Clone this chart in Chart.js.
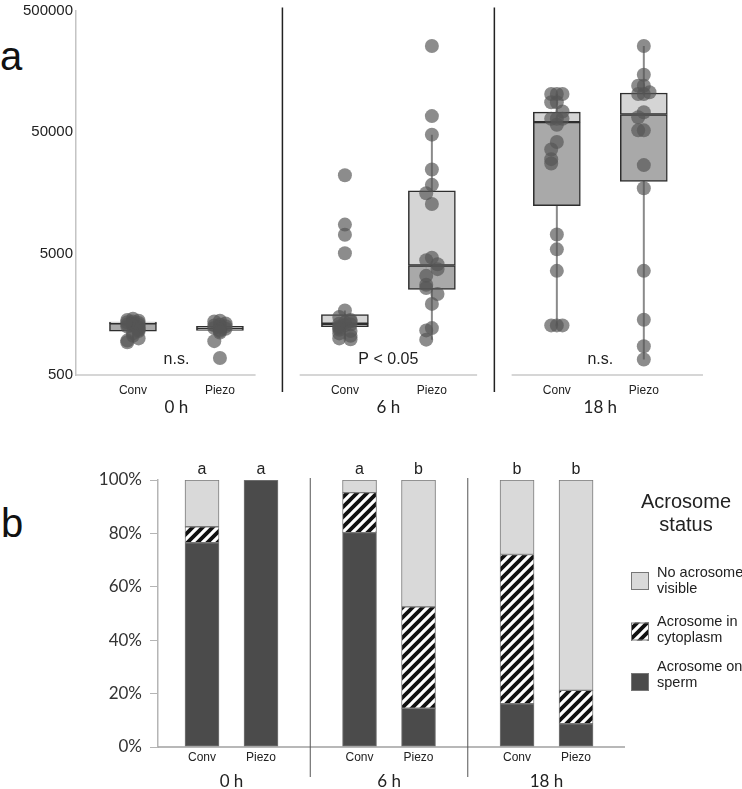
<!DOCTYPE html>
<html>
<head>
<meta charset="utf-8">
<script src="https://cdn.jsdelivr.net/npm/chart.js@4.4.1/dist/chart.umd.min.js"></script>
<style>
  body { margin: 0; background: #fff; width: 742px; height: 789px; position: relative; overflow: hidden; font-family: 'Liberation Sans', Arial, sans-serif; }
  #chartA { position: absolute; left: 0; top: 0; }
  #chartB { position: absolute; left: 0; top: 440px; }
  .panel { position: absolute; font-size: 40px; line-height: 40px; color: #111; }
</style>
</head>
<body>
<div class="panel" style="left:0px;top:36px">a</div>
<div class="panel" style="left:1px;top:503px">b</div>
<canvas id="chartA" width="742" height="420"></canvas>
<canvas id="chartB" width="742" height="349"></canvas>
<script>
const groupLabels = ['0 h', '6 h', '18 h'];
const methodLabels = ['Conv', 'Piezo'];

// panel a: single values per box (log scale)
const conv0h = [1450, 1420, 1400, 1380, 1360, 1340, 1320, 1300, 1290, 1270, 1250, 1230, 1200, 1180, 1150, 1100, 1050, 1000, 960, 930];
const piezo0h = [1400, 1380, 1330, 1300, 1280, 1260, 1240, 1220, 1200, 1180, 1150, 1120, 950, 690];
const conv6h = [22000, 8650, 7125, 5025, 1700, 1500, 1420, 1380, 1350, 1320, 1300, 1280, 1250, 1220, 1180, 1150, 1100, 1050, 1000, 985];
const piezo6h = [255000, 67600, 47540, 24600, 18370, 15670, 12760, 4620, 4400, 4080, 3715, 3274, 2767, 2599, 2322, 1923, 1216, 1164, 977];
const conv18h = [102700, 102700, 102700, 87900, 87900, 73800, 64250, 64250, 64250, 57400, 41400, 35900, 29900, 27560, 7174, 5410, 3598, 1280, 1280, 1280];
const piezo18h = [255000, 147900, 120200, 120200, 106100, 102700, 102700, 72800, 66200, 51600, 51600, 26700, 17220, 3598, 1425, 862, 671];
const boxQ1 = [1145, 1165, 1250, 2530, 12360, 19630];
const boxMedian = [1330, 1215, 1320, 3980, 60350, 69700];
const boxQ3 = [1365, 1255, 1575, 16400, 72800, 104700];
const whiskerLow = [930, 1060, 985, 977, 1280, 671];
const whiskerHigh = [1460, 1420, 1700, 47540, 102700, 255000];
const yTicksA = [500, 5000, 50000, 500000];
const pLabels = ['n.s.', 'P < 0.05', 'n.s.'];

// panel b: acrosome status, percent
const onSperm = [76.5, 100, 80.3, 14.5, 16.2, 8.7];
const inCytoplasm = [6.0, 0, 15.0, 38.0, 55.9, 12.5];
const noAcrosome = [17.5, 0, 4.7, 47.5, 27.9, 78.8];
const sigLetters = ['a', 'a', 'a', 'b', 'b', 'b'];
const legendLabels = [['No acrosome', 'visible'], ['Acrosome in', 'cytoplasm'], ['Acrosome on', 'sperm']];

const STEP_A = 2.437;
const STEP_B = 2.67;
const ARIAL = '"Liberation Sans", Arial, sans-serif';
const CALIBRI = 'Lato, "Liberation Sans", sans-serif';

function posOf(i, step) { return Math.floor(i / 2) * step + (i % 2); }

// spread points that sit close together (beeswarm style)
function lanesFor(vals) {
  return vals.map((v, i) => {
    let n = 0;
    for (let j = 0; j < i; j++) {
      if (Math.abs(Math.log10(v) - Math.log10(vals[j])) < 0.08) n++;
    }
    return [0, -1, 1][n % 3];
  });
}

function makeHatch() {
  const c = document.createElement('canvas');
  c.width = 10; c.height = 10;
  const g = c.getContext('2d');
  g.fillStyle = '#fff';
  g.fillRect(0, 0, 10, 10);
  g.strokeStyle = '#111';
  g.lineWidth = 3.8;
  g.beginPath();
  g.moveTo(-5, 5); g.lineTo(5, -5);
  g.moveTo(0, 10); g.lineTo(10, 0);
  g.moveTo(5, 15); g.lineTo(15, 5);
  g.stroke();
  return g.createPattern(c, 'repeat');
}

(function () {
  // ---------- panel a ----------
  const allVals = [conv0h, piezo0h, conv6h, piezo6h, conv18h, piezo18h];
  const boxPos = allVals.map((v, i) => posOf(i, STEP_A));
  const points = [];
  allVals.forEach((vals, b) => {
    const lanes = lanesFor(vals);
    vals.forEach((v, k) => points.push({ x: boxPos[b] + lanes[k] * 0.065, y: v }));
  });
  const whiskers = [];
  boxPos.forEach((p, b) => {
    whiskers.push({ x: p, y: whiskerLow[b] }, { x: p, y: whiskerHigh[b] }, { x: p, y: null });
  });
  const baseSpanA = [[-0.655, 1.41], [-0.52, 1.52], [-0.52, 1.68]];

  const extrasA = {
    id: 'extrasA',
    beforeDatasetsDraw(chart) {
      const { ctx, chartArea, scales: { x } } = chart;
      ctx.save();
      ctx.strokeStyle = '#c8c8c8';
      ctx.lineWidth = 1.5;
      groupLabels.forEach((g, gi) => {
        ctx.beginPath();
        ctx.moveTo(x.getPixelForValue(gi * STEP_A + baseSpanA[gi][0]), chartArea.bottom);
        ctx.lineTo(x.getPixelForValue(gi * STEP_A + baseSpanA[gi][1]), chartArea.bottom);
        ctx.stroke();
      });
      ctx.strokeStyle = '#222';
      for (let gi = 0; gi < groupLabels.length - 1; gi++) {
        const px = x.getPixelForValue((posOf(gi * 2 + 1, STEP_A) + posOf(gi * 2 + 2, STEP_A)) / 2);
        ctx.beginPath();
        ctx.moveTo(px, chartArea.top - 3);
        ctx.lineTo(px, chartArea.bottom + 17);
        ctx.stroke();
      }
      ctx.restore();
    },
    afterDraw(chart) {
      const { ctx, chartArea, scales: { x } } = chart;
      ctx.save();
      ctx.fillStyle = '#222';
      ctx.textAlign = 'center';
      ctx.textBaseline = 'middle';
      ctx.font = '12px ' + ARIAL;
      boxPos.forEach((p, i) => ctx.fillText(methodLabels[i % 2], x.getPixelForValue(p), chartArea.bottom + 16));
      groupLabels.forEach((g, gi) => {
        const cx = x.getPixelForValue(gi * STEP_A + 0.5);
        ctx.font = '17px ' + CALIBRI;
        ctx.fillText(g, cx, chartArea.bottom + 33);
        ctx.font = '16px ' + ARIAL;
        ctx.fillText(pLabels[gi], cx, chartArea.bottom - 15);
      });
      ctx.restore();
    }
  };

  new Chart(document.getElementById('chartA'), {
    type: 'bar',
    data: {
      datasets: [
        { type: 'scatter', data: points, pointRadius: 7, backgroundColor: 'rgba(85,85,85,0.68)', borderWidth: 0, order: 0 },
        { type: 'bar', data: boxPos.map((p, b) => ({ x: p, y: [boxQ1[b], boxMedian[b]] })), backgroundColor: '#a9a9a9',
          borderColor: '#2e2e2e', borderWidth: 1.5, borderSkipped: false, barThickness: 47, grouped: false, order: 1 },
        { type: 'bar', data: boxPos.map((p, b) => ({ x: p, y: [boxMedian[b], boxQ3[b]] })), backgroundColor: '#d5d5d5',
          borderColor: '#2e2e2e', borderWidth: 1.5, borderSkipped: false, barThickness: 47, grouped: false, order: 1 },
        { type: 'line', data: whiskers, borderColor: '#8a8a8a', borderWidth: 2, pointRadius: 0, spanGaps: false, order: 2 }
      ]
    },
    options: {
      responsive: false,
      animation: false,
      events: [],
      layout: { padding: { top: 8, bottom: 45, right: 22, left: 0 } },
      plugins: { legend: { display: false }, tooltip: { enabled: false } },
      scales: {
        x: { type: 'linear', display: false, min: -0.655, max: 6.75, offset: false },
        y: {
          type: 'logarithmic', min: 500, max: 500000,
          afterBuildTicks: s => { s.ticks = yTicksA.map(v => ({ value: v })); },
          afterFit: s => { s.width = 76; },
          grid: { display: false, drawTicks: false },
          border: { display: true, color: '#c4c4c4', width: 1.5 },
          ticks: { font: { family: ARIAL, size: 15, lineHeight: 1 }, color: '#222', padding: 3, callback: v => String(v) }
        }
      }
    },
    plugins: [extrasA]
  });

  // ---------- panel b ----------
  const barPos = onSperm.map((v, i) => posOf(i, STEP_B));
  const hatch = makeHatch();
  const segColors = ['#d9d9d9', hatch, '#4b4b4b'];

  const extrasB = {
    id: 'extrasB',
    afterDraw(chart) {
      const { ctx, chartArea: ca, scales: { x, y } } = chart;
      ctx.save();
      ctx.strokeStyle = '#a0a0a0';
      ctx.lineWidth = 1.5;
      ctx.beginPath();
      ctx.moveTo(ca.left, y.getPixelForValue(0));
      ctx.lineTo(ca.right, y.getPixelForValue(0));
      ctx.stroke();
      ctx.strokeStyle = '#555';
      ctx.lineWidth = 1;
      for (let gi = 0; gi < groupLabels.length - 1; gi++) {
        const px = x.getPixelForValue((posOf(gi * 2 + 1, STEP_B) + posOf(gi * 2 + 2, STEP_B)) / 2);
        ctx.beginPath();
        ctx.moveTo(px, ca.top - 2);
        ctx.lineTo(px, ca.bottom + 30);
        ctx.stroke();
      }
      ctx.fillStyle = '#222';
      ctx.textAlign = 'center';
      ctx.textBaseline = 'middle';
      barPos.forEach((p, i) => {
        const px = x.getPixelForValue(p);
        ctx.font = '16px ' + ARIAL;
        ctx.fillText(sigLetters[i], px, y.getPixelForValue(100) - 10);
        ctx.font = '12px ' + ARIAL;
        ctx.fillText(methodLabels[i % 2], px, ca.bottom + 11);
      });
      ctx.font = '17px ' + CALIBRI;
      groupLabels.forEach((g, gi) => ctx.fillText(g, x.getPixelForValue(gi * STEP_B + 0.5), ca.bottom + 35));

      // legend
      ctx.font = '20px ' + ARIAL;
      ctx.fillText('Acrosome', 686, 62);
      ctx.fillText('status', 686, 85);
      ctx.textAlign = 'left';
      ctx.font = '14.5px ' + ARIAL;
      legendLabels.forEach((lines, k) => {
        const top = 132 + k * 50.5;
        ctx.fillStyle = segColors[k];
        ctx.fillRect(631, top, 18, 18);
        ctx.strokeStyle = '#777';
        ctx.strokeRect(631.5, top + 0.5, 17, 17);
        ctx.fillStyle = '#222';
        ctx.fillText(lines[0], 657, top + 1 - (k === 2 ? 7 : 0) + (k === 1 ? -2 : 0));
        ctx.fillText(lines[1], 657, top + 17 - (k === 2 ? 7 : 0) + (k === 1 ? -2 : 0));
      });
      ctx.restore();
    }
  };

  const barStyle = { borderColor: '#7a7a7a', borderWidth: 1, borderSkipped: false, barThickness: 34 };
  new Chart(document.getElementById('chartB'), {
    type: 'bar',
    data: {
      datasets: [
        Object.assign({ label: 'Acrosome on sperm', data: barPos.map((p, i) => ({ x: p, y: onSperm[i] })), backgroundColor: '#4b4b4b' }, barStyle),
        Object.assign({ label: 'Acrosome in cytoplasm', data: barPos.map((p, i) => ({ x: p, y: inCytoplasm[i] })), backgroundColor: hatch }, barStyle),
        Object.assign({ label: 'No acrosome visible', data: barPos.map((p, i) => ({ x: p, y: noAcrosome[i] })), backgroundColor: '#d9d9d9' }, barStyle)
      ]
    },
    options: {
      responsive: false,
      animation: false,
      events: [],
      layout: { padding: { top: 40, bottom: 42, right: 117, left: 0 } },
      plugins: { legend: { display: false }, tooltip: { enabled: false } },
      scales: {
        x: { type: 'linear', display: false, min: -0.746, max: 7.17, offset: false, stacked: true },
        y: {
          min: 0, max: 100, stacked: true,
          afterFit: s => { s.width = 158; },
          grid: { display: true, drawOnChartArea: false, drawTicks: true, tickLength: 8, color: '#b5b5b5' },
          border: { display: true, color: '#b5b5b5', width: 1.5 },
          ticks: { stepSize: 20, font: { family: CALIBRI, size: 17 }, color: '#333', padding: 8, callback: v => v + '%' }
        }
      }
    },
    plugins: [extrasB]
  });
})();
</script>
</body>
</html>
